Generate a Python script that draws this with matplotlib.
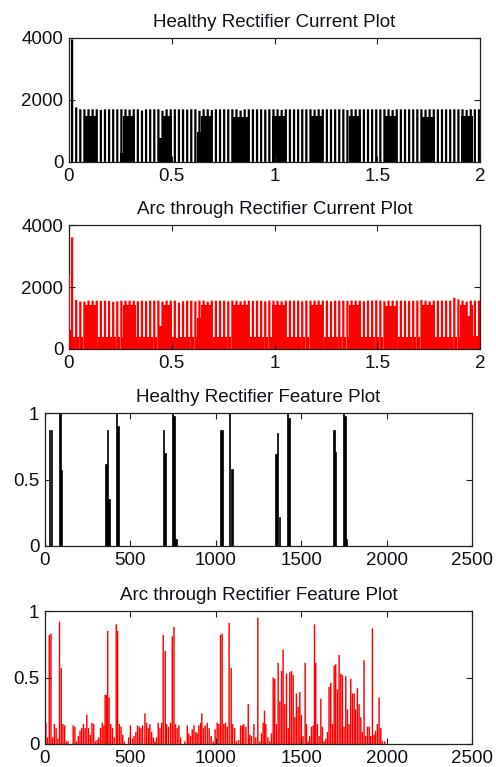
import matplotlib

matplotlib.use("Agg")
import matplotlib.pyplot as plt
import numpy as np

# ---- current plots: one pulse every 20 ms, value read per pulse ----
healthy_peak = [
    3950, 1760, 1700, 1700, 1700, 1700, 1700, 1680, 1700, 1700,
    1700, 1700, 1700, 1700, 1690, 1700, 1700, 1660, 1700, 1700,
    1700, 1700, 1650, 1700, 1700, 1700, 1700, 1700, 1690, 1700,
    1700, 1650, 1700, 1700, 1680, 1700, 1700, 1700, 1700, 1700,
    1700, 1660, 1700, 1700, 1700, 1700, 1700, 1690, 1700, 1700,
    1700, 1680, 1700, 1700, 1700, 1700, 1700, 1700, 1700, 1690,
    1700, 1700, 1700, 1700, 1700, 1700, 1700, 1680, 1700, 1700,
    1700, 1700, 1700, 1700, 1700, 1700, 1700, 1700, 1680, 1700,
    1700, 1700, 1700, 1700, 1700, 1700, 1690, 1700, 1700, 1700,
    1700, 1700, 1700, 1700, 1700, 1700, 1680, 1700, 1700, 1700,
]
healthy_blk_start = [0.078, 0.249, 0.262, 0.440, 0.455, 0.625, 0.640, 0.800,
                     0.988, 1.175, 1.362, 1.533, 1.720, 1.908]
healthy_blk_end = [0.136, 0.262, 0.322, 0.455, 0.503, 0.640, 0.690, 0.870,
                   1.053, 1.232, 1.419, 1.595, 1.782, 1.966]
healthy_blk_level = [1490, 290, 1490, 770, 1490, 960, 1480, 1450,
                     1480, 1490, 1480, 1480, 1460, 1470]

arc_peak = [
    3600, 1580, 1530, 1530, 1560, 1560, 1560, 1550, 1560, 1550,
    1520, 1540, 1560, 1560, 1560, 1560, 1540, 1560, 1540, 1560,
    1560, 1560, 1530, 1560, 1560, 1560, 1500, 1540, 1560, 1560,
    1540, 1560, 1560, 1530, 1560, 1560, 1560, 1560, 1540, 1560,
    1560, 1540, 1560, 1560, 1550, 1560, 1560, 1540, 1560, 1560,
    1560, 1540, 1560, 1560, 1560, 1560, 1540, 1560, 1560, 1560,
    1560, 1560, 1560, 1540, 1560, 1560, 1560, 1550, 1560, 1560,
    1560, 1540, 1560, 1560, 1570, 1560, 1540, 1560, 1560, 1560,
    1560, 1560, 1550, 1560, 1560, 1580, 1560, 1540, 1560, 1560,
    1560, 1560, 1560, 1650, 1600, 1560, 1530, 1560, 1560, 1560,
]
arc_floor = [
    600, 400, 400, 400, 400, 400, 400, 390, 400, 400,
    400, 400, 380, 400, 400, 400, 400, 400, 380, 400,
    400, 380, 400, 400, 400, 400, 350, 400, 400, 400,
    400, 400, 400, 400, 380, 400, 400, 400, 400, 400,
    400, 400, 390, 400, 400, 380, 400, 400, 400, 400,
    400, 400, 400, 400, 400, 390, 400, 400, 400, 400,
    400, 380, 400, 400, 400, 400, 400, 400, 390, 400,
    400, 400, 400, 400, 400, 400, 380, 400, 400, 400,
    400, 400, 400, 400, 390, 400, 400, 400, 400, 400,
    400, 400, 400, 400, 400, 400, 400, 400, 420, 420,
]
arc_inrush_t = [0.002]
arc_inrush_i = [2400]
arc_blk_start = [0.078, 0.262, 0.440, 0.455, 0.625, 0.640, 0.800, 0.988,
                 1.175, 1.362, 1.540, 1.720, 1.904, 1.935, 1.950]
arc_blk_end = [0.137, 0.326, 0.455, 0.503, 0.640, 0.690, 0.870, 1.053,
               1.232, 1.419, 1.595, 1.782, 1.935, 1.950, 1.966]
arc_blk_level = [1420, 1430, 750, 1430, 1000, 1420, 1410, 1430,
                 1420, 1420, 1390, 1420, 1420, 1060, 1420]

# ---- feature plots ----
healthy_feat_x = [28, 38, 88, 98, 358, 366, 374, 418, 427, 693, 703, 748, 756, 766,
                  1028, 1036, 1082, 1094, 1352, 1362, 1372, 1420, 1428, 1692, 1702,
                  1748, 1756, 1766]
healthy_feat_y = [0.87, 0.87, 1.0, 0.57, 0.62, 0.87, 0.35, 1.0, 0.90, 0.87, 0.70, 1.0,
                  0.98, 0.05, 0.87, 0.87, 1.0, 0.58, 0.69, 0.85, 0.22, 1.0, 0.96,
                  0.87, 0.71, 1.0, 0.98, 0.05]

arc_feat_x = [
    5, 15, 25, 35, 45, 55, 65, 75, 85, 95, 105, 115, 125, 135, 165, 175, 185, 195,
    205, 215, 225, 235, 245, 255, 265, 275, 285, 295, 305, 315, 325, 335, 345, 352,
    360, 367, 375, 385, 395, 405, 417, 425, 435, 445, 455, 465, 490, 500, 512, 521,
    532, 542, 552, 562, 571, 585, 595, 605, 614, 624, 634, 644, 653, 663, 673, 683,
    692, 704, 712, 723, 735, 745, 755, 764, 774, 784, 794, 819, 833, 842, 852, 862,
    872, 883, 891, 901, 911, 918, 928, 938, 950, 961, 973, 985, 996, 1008, 1018,
    1028, 1037, 1047, 1057, 1067, 1078, 1090, 1098, 1110, 1121, 1133, 1145, 1155,
    1164, 1176, 1190, 1199, 1209, 1223, 1234, 1246, 1258, 1268, 1277, 1285, 1293,
    1305, 1316, 1326, 1336, 1345, 1355, 1365, 1375, 1385, 1394, 1404, 1414, 1424,
    1433, 1443, 1453, 1463, 1472, 1482, 1492, 1501, 1511, 1523, 1531, 1541, 1550,
    1560, 1570, 1578, 1585, 1595, 1605, 1615, 1624, 1634, 1644, 1654, 1663, 1673,
    1683, 1693, 1702, 1712, 1722, 1732, 1741, 1751, 1761, 1771, 1780, 1790, 1800,
    1810, 1819, 1829, 1839, 1849, 1858, 1868, 1878, 1888, 1898, 1907, 1917, 1927,
    1936, 1946, 1956, 1966, 1976, 1989,
]
arc_feat_y = [
    0.16, 0.05, 0.82, 0.83, 0.05, 0.15, 0.12, 0.04, 0.92, 0.57, 0.15, 0.14, 0.02, 0.02,
    0.14, 0.13, 0.02, 0.06, 0.10, 0.12, 0.15, 0.12, 0.22, 0.12, 0.07, 0.16, 0.15, 0.02,
    0.03, 0.05, 0.12, 0.16, 0.14, 0.37, 0.37, 0.85, 0.35, 0.15, 0.12, 0.05, 0.90, 0.85,
    0.15, 0.13, 0.07, 0.02, 0.05, 0.14, 0.04, 0.06, 0.09, 0.14, 0.13, 0.12, 0.14, 0.23,
    0.16, 0.12, 0.15, 0.09, 0.05, 0.02, 0.05, 0.16, 0.12, 0.16, 0.82, 0.70, 0.15, 0.13,
    0.16, 0.81, 0.88, 0.15, 0.12, 0.14, 0.05, 0.02, 0.14, 0.08, 0.06, 0.11, 0.14, 0.09,
    0.08, 0.14, 0.16, 0.23, 0.12, 0.14, 0.16, 0.12, 0.06, 0.02, 0.11, 0.16, 0.15, 0.82,
    0.83, 0.15, 0.16, 0.13, 0.91, 0.57, 0.15, 0.12, 0.02, 0.03, 0.14, 0.14, 0.15, 0.13,
    0.30, 0.07, 0.06, 0.15, 0.05, 0.95, 0.02, 0.08, 0.16, 0.25, 0.15, 0.05, 0.02, 0.08,
    0.50, 0.49, 0.15, 0.61, 0.32, 0.55, 0.71, 0.30, 0.53, 0.12, 0.54, 0.55, 0.52, 0.20,
    0.38, 0.28, 0.39, 0.22, 0.06, 0.61, 0.15, 0.02, 0.06, 0.13, 0.14, 0.90, 0.61, 0.15,
    0.06, 0.34, 0.13, 0.02, 0.04, 0.09, 0.43, 0.46, 0.15, 0.59, 0.60, 0.41, 0.67, 0.53,
    0.52, 0.13, 0.51, 0.26, 0.15, 0.49, 0.38, 0.38, 0.26, 0.42, 0.30, 0.20, 0.09, 0.63,
    0.06, 0.13, 0.13, 0.06, 0.87, 0.07, 0.10, 0.15, 0.35, 0.12, 0.02, 0.02,
]

titles = ["Healthy Rectifier Current Plot", "Arc through Rectifier Current Plot",
          "Healthy Rectifier Feature Plot", "Arc through Rectifier Feature Plot"]
cur_xticks = [0, 0.5, 1, 1.5, 2]
cur_xlabels = ["0", "0.5", "1", "1.5", "2"]
cur_yticks = [0, 2000, 4000]
feat_xticks = [0, 500, 1000, 1500, 2000, 2500]
feat_yticks = [0, 0.5, 1]
feat_ylabels = ["0", "0.5", "1"]

plt.rcParams["font.family"] = ["Liberation Sans", "DejaVu Sans"]
TXT = "#101018"

W, H = 496, 767
fig = plt.figure(figsize=(W / 100, H / 100), dpi=100)


def box(l, t, r, b):
    return [l / W, 1 - b / H, (r - l) / W, (b - t) / H]


def style(ax, title):
    ax.set_title(title, fontsize=13.5, pad=8, color=TXT)
    ax.tick_params(direction="in", top=True, right=True, length=4, width=0.8,
                   colors="#222222", labelcolor=TXT, labelsize=13.5)
    ax.tick_params(axis="x", pad=4)
    ax.tick_params(axis="y", pad=4)
    for s in ax.spines.values():
        s.set_linewidth(0.9)
        s.set_color("#222222")


t_peak = np.arange(len(healthy_peak)) * 0.02 + 0.015
t_floor = np.arange(len(arc_floor)) * 0.02 + 0.005

# healthy current
ax1 = fig.add_axes(box(69, 38, 480, 162))
ax1.bar(t_peak, healthy_peak, width=0.011, color="black", linewidth=0, snap=False)
ax1.bar(healthy_blk_start, healthy_blk_level,
        width=np.subtract(healthy_blk_end, healthy_blk_start),
        align="edge", color="black", linewidth=0)
ax1.set_xlim(0, 2)
ax1.set_ylim(0, 4000)
ax1.set_xticks(cur_xticks, cur_xlabels)
ax1.set_yticks(cur_yticks)
style(ax1, titles[0])

# arc-through current
ax2 = fig.add_axes(box(69, 225, 480, 349))
ax2.bar(t_floor, arc_floor, width=0.0101, color="red", linewidth=0)
ax2.bar(t_peak, arc_peak, width=0.011, color="red", linewidth=0, snap=False)
ax2.bar(arc_inrush_t, arc_inrush_i, width=0.004, color="red", linewidth=0, zorder=3)
ax2.bar(arc_blk_start, arc_blk_level,
        width=np.subtract(arc_blk_end, arc_blk_start),
        align="edge", color="red", linewidth=0)
ax2.set_xlim(0, 2)
ax2.set_ylim(0, 4000)
ax2.set_xticks(cur_xticks, cur_xlabels)
ax2.set_yticks(cur_yticks)
style(ax2, titles[1])

# healthy feature
ax3 = fig.add_axes(box(45, 413, 472, 546))
ax3.bar(healthy_feat_x, healthy_feat_y, width=8, color="black",
        edgecolor="black", linewidth=0.5)
ax3.set_xlim(0, 2500)
ax3.set_ylim(0, 1)
ax3.set_xticks(feat_xticks)
ax3.set_yticks(feat_yticks, feat_ylabels)
style(ax3, titles[2])

# arc-through feature
ax4 = fig.add_axes(box(45, 611, 472, 744))
ax4.bar(arc_feat_x, arc_feat_y, width=8.5, color="red", linewidth=0, snap=False)
ax4.set_xlim(0, 2500)
ax4.set_ylim(0, 1)
ax4.set_xticks(feat_xticks)
ax4.set_yticks(feat_yticks, feat_ylabels)
style(ax4, titles[3])

fig.savefig("out.png", dpi=100)
